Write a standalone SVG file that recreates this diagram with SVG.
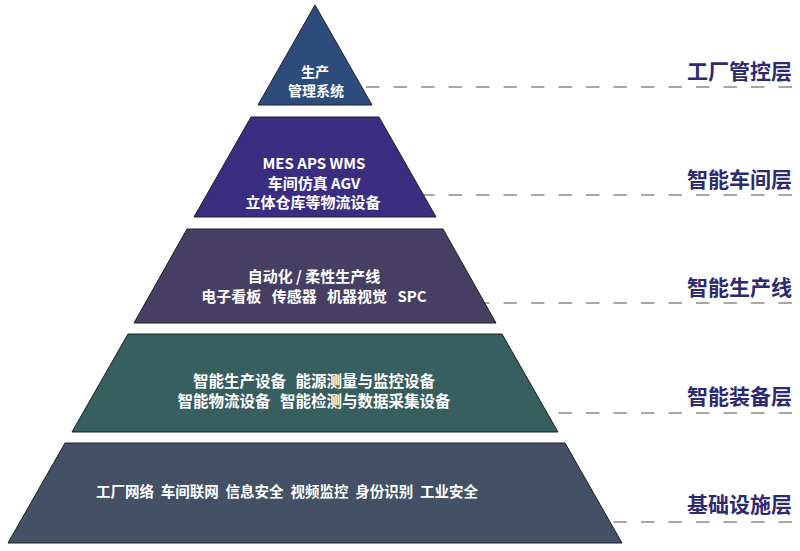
<svg xmlns="http://www.w3.org/2000/svg" width="800" height="551" viewBox="0 0 800 551">
<style>
.layer{stroke:#1e1e1e;stroke-width:1;stroke-linejoin:miter}
.t{font-family:"Noto Sans CJK SC","Noto Sans",sans-serif;font-weight:bold;fill:#ffffff;text-anchor:middle}
.lbl{font-family:"Noto Sans CJK SC","Noto Sans",sans-serif;font-weight:bold;fill:#2e2a70;font-size:21px;text-anchor:end}
.dash{stroke:#8a8a8a;stroke-width:1.5;stroke-dasharray:13.5 14;fill:none}
</style>
<rect width="800" height="551" fill="#ffffff"/>
<g id="connectors">
<path class="dash" d="M792 87 H365"/>
<path class="dash" d="M792 195 H400"/>
<path class="dash" d="M792 303 H460"/>
<path class="dash" d="M792 413 H520"/>
<path class="dash" d="M792 522 H580"/>
</g>
<g id="layer1">
<polygon class="layer" points="315,5 372,105 258,105" fill="#2d4c7b"/>
<text class="t" x="315" y="77" font-size="14">生产</text>
<text class="t" x="316" y="96" font-size="14">管理系统</text>
</g>
<g id="layer2">
<polygon class="layer" points="251,117 379,117 436,217 194,217" fill="#3b2d82"/>
<text class="t" x="314" y="169" font-size="15">MES APS WMS</text>
<text class="t" x="314" y="188.5" font-size="15">车间仿真 AGV</text>
<text class="t" x="313" y="207.5" font-size="15">立体仓库等物流设备</text>
</g>
<g id="layer3">
<polygon class="layer" points="187,229 443,229 496,323 134,323" fill="#473f63"/>
<text class="t" x="314" y="282" font-size="15">自动化 / 柔性生产线</text>
<text class="t" x="314" y="302" font-size="15" word-spacing="7">电子看板 传感器 机器视觉 SPC</text>
</g>
<g id="layer4">
<polygon class="layer" points="128,334 502,334 558,432 72,432" fill="#375f5f"/>
<text class="t" x="314" y="387" font-size="15.5" word-spacing="6">智能生产设备 能源测量与监控设备</text>
<text class="t" x="314" y="407" font-size="15.5" word-spacing="6">智能物流设备 智能检测与数据采集设备</text>
</g>
<g id="layer5">
<polygon class="layer" points="65,443 565,443 622,543 8,543" fill="#435065"/>
<text class="t" x="287" y="497" font-size="14.5" word-spacing="3.5">工厂网络 车间联网 信息安全 视频监控 身份识别 工业安全</text>
</g>
<g id="labels">
<text class="lbl" x="792" y="79">工厂管控层</text>
<text class="lbl" x="792" y="187">智能车间层</text>
<text class="lbl" x="792" y="295">智能生产线</text>
<text class="lbl" x="792" y="404">智能装备层</text>
<text class="lbl" x="792" y="512">基础设施层</text>
</g>
</svg>
